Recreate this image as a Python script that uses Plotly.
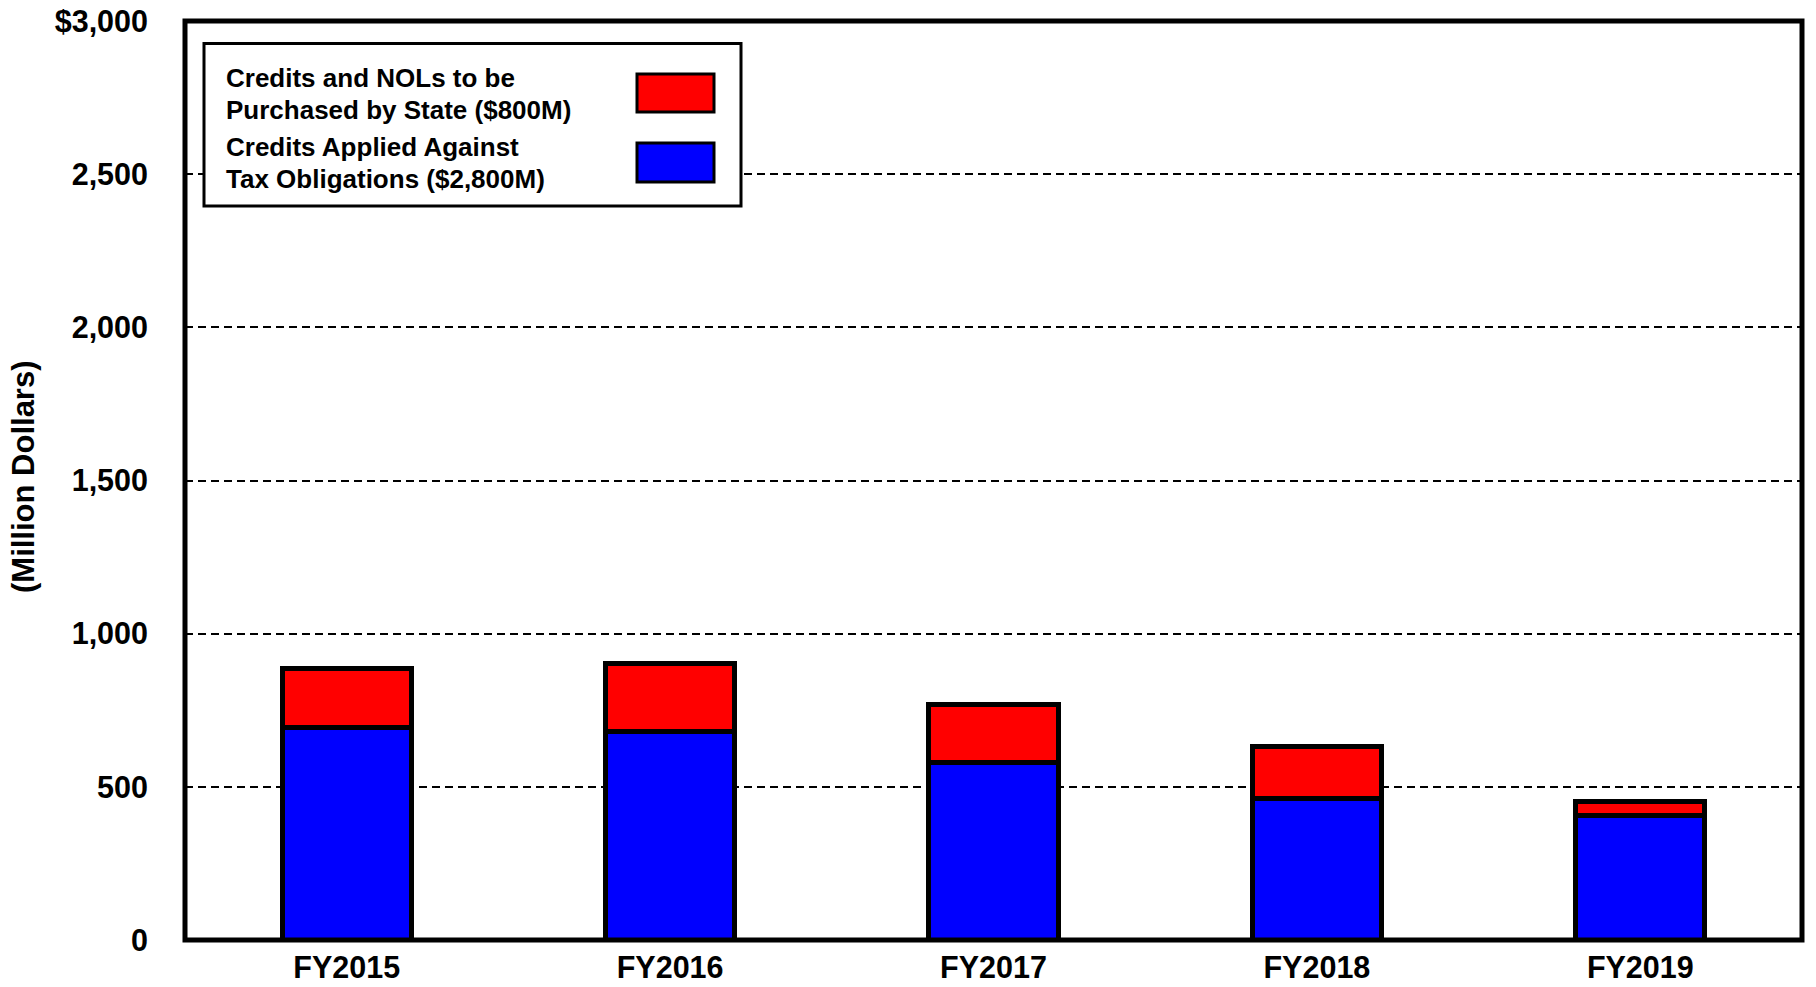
import plotly.graph_objects as go

categories = ["FY2015", "FY2016", "FY2017", "FY2018", "FY2019"]
applied = [694, 682, 578, 463, 405]        # Credits Applied Against Tax Obligations
purchased = [193, 220, 192, 168, 46]       # Credits and NOLs to be Purchased by State
series_names = [
    ["Credits and NOLs to be", "Purchased by State ($800M)"],
    ["Credits Applied Against", "Tax Obligations ($2,800M)"],
]
y_tickvals = [0, 500, 1000, 1500, 2000, 2500, 3000]
y_ticktext = ["0", "500", "1,000", "1,500", "2,000", "2,500", "$3,000"]
y_title = "(Million Dollars)"

W, H = 1816, 987
L, R, T, B = 185, 14, 21, 47
PW, PH = W - L - R, H - T - B
FONT = "Liberation Sans, Arial, sans-serif"

def px(x):
    return (x - L) / PW

def py(y):
    return (H - B - y) / PH

fig = go.Figure()
fig.add_trace(go.Bar(x=categories, y=applied, name=" ".join(series_names[1]),
                     marker=dict(color="#0000FF", line=dict(color="black", width=5)),
                     width=0.4, showlegend=False))
fig.add_trace(go.Bar(x=categories, y=purchased, name=" ".join(series_names[0]),
                     marker=dict(color="#FF0000", line=dict(color="black", width=5)),
                     width=0.4, showlegend=False))

shapes = [
    # plot frame
    dict(type="rect", xref="paper", yref="paper", x0=0, x1=1, y0=0, y1=1,
         line=dict(color="black", width=5), layer="above"),
    # legend box
    dict(type="rect", xref="paper", yref="paper", x0=px(204), x1=px(741), y0=py(206), y1=py(43.5),
         line=dict(color="black", width=3), fillcolor="white", layer="above"),
    dict(type="rect", xref="paper", yref="paper", x0=px(637), x1=px(714), y0=py(112), y1=py(74),
         line=dict(color="black", width=3), fillcolor="#FF0000", layer="above"),
    dict(type="rect", xref="paper", yref="paper", x0=px(637), x1=px(714), y0=py(182), y1=py(143),
         line=dict(color="black", width=3), fillcolor="#0000FF", layer="above"),
]

annotations = []
line_centers = [78, 110.5, 147, 178.5]
lines = series_names[0] + series_names[1]
for txt, yc in zip(lines, line_centers):
    annotations.append(dict(text=txt, xref="paper", yref="paper", x=px(224), y=py(yc),
                            xanchor="left", yanchor="middle", showarrow=False,
                            font=dict(family=FONT, size=26, color="black", weight="bold")))
annotations.append(dict(text=y_title, xref="paper", yref="paper", x=px(23), y=py(477),
                        xanchor="center", yanchor="middle", textangle=-90, showarrow=False,
                        font=dict(family=FONT, size=31, color="black", weight="bold")))

fig.update_layout(
    width=W, height=H,
    margin=dict(l=L, r=R, t=T, b=B, pad=0, autoexpand=False),
    barmode="stack",
    plot_bgcolor="white", paper_bgcolor="white",
    shapes=shapes, annotations=annotations,
    xaxis=dict(showgrid=False, showline=False, zeroline=False, ticks="", automargin=False,
               tickfont=dict(family=FONT, size=30.5, color="black", weight="bold"),
               ticklabelstandoff=6),
    yaxis=dict(range=[0, 3000], tickvals=y_tickvals, ticktext=y_ticktext, automargin=False,
               showgrid=True, gridcolor="black", gridwidth=1.5, griddash="8px,5px",
               zeroline=False, showline=False, ticks="",
               tickfont=dict(family=FONT, size=30.5, color="black", weight="bold"),
               ticklabelstandoff=36),
)

fig.write_html("out.html")
